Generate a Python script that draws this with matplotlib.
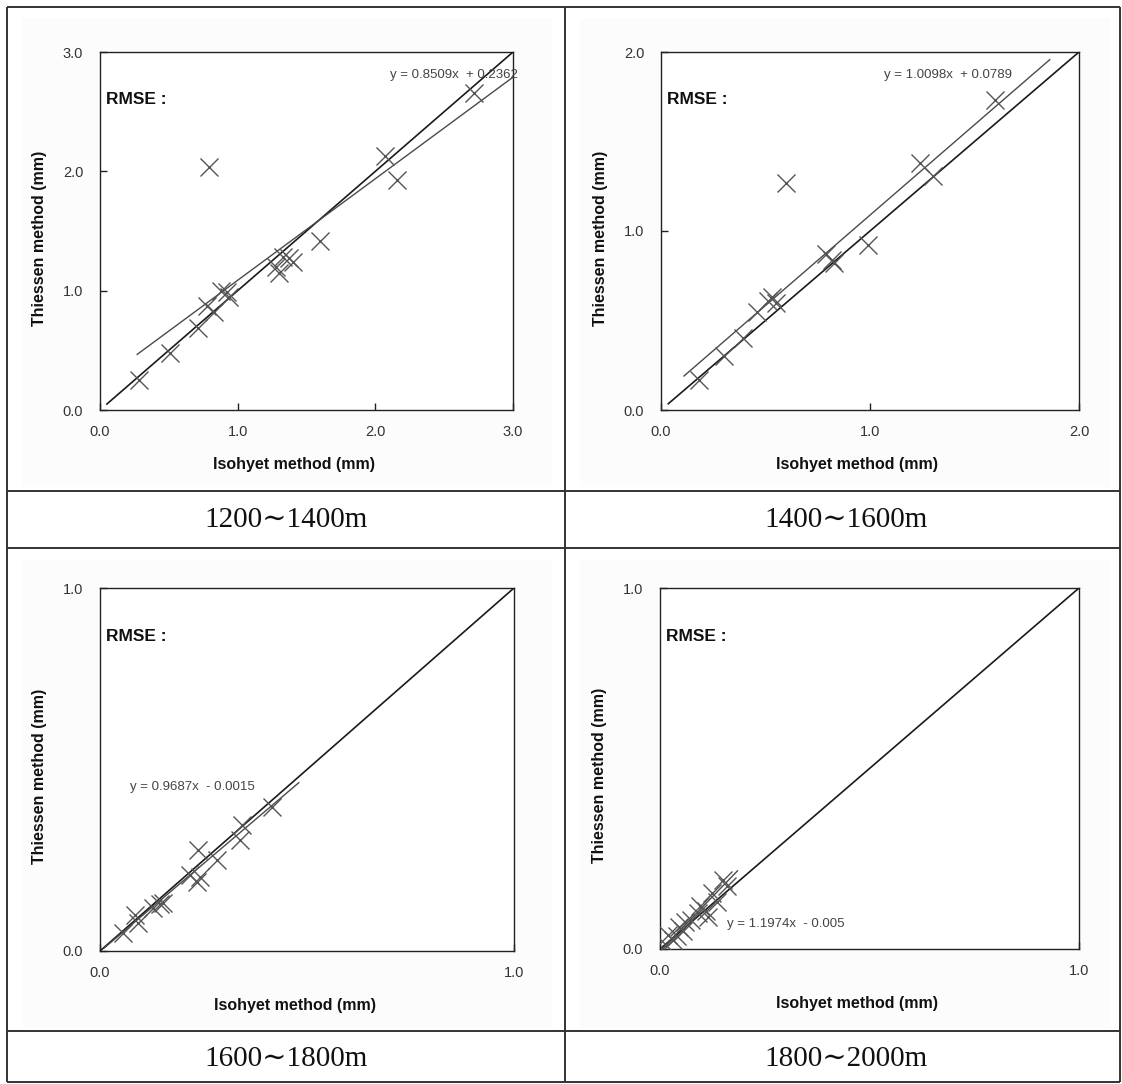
"""Isohyet vs Thiessen areal rainfall, four elevation bands, laid out as a 2x2 table."""

import matplotlib
matplotlib.use("Agg")
import matplotlib.pyplot as plt

plt.rcParams['font.family'] = ['Liberation Sans', 'DejaVu Sans']

# ---- data ----
band_labels = ['1200∼1400m', '1400∼1600m', '1600∼1800m', '1800∼2000m']
axis_max = [3.0, 2.0, 1.0, 1.0]
tick_values = [[0, 1, 2, 3], [0, 1, 2], [0, 1], [0, 1]]

# 1200~1400m
isohyet_1 = [0.28, 0.51, 0.71, 0.79, 0.78, 0.83, 0.88, 0.92, 0.94,
             1.28, 1.30, 1.33, 1.37, 1.40, 1.60, 2.07, 2.16, 2.72]
thiessen_1 = [0.25, 0.48, 0.69, 2.04, 0.87, 0.82, 1.00, 0.99, 0.95,
              1.20, 1.15, 1.28, 1.27, 1.24, 1.42, 2.13, 1.93, 2.66]

# 1400~1600m
isohyet_2 = [0.18, 0.30, 0.39, 0.46, 0.51, 0.53, 0.55, 0.60,
             0.79, 0.82, 0.83, 0.99, 1.24, 1.30, 1.60]
thiessen_2 = [0.17, 0.30, 0.40, 0.55, 0.61, 0.63, 0.60, 1.27,
              0.87, 0.84, 0.82, 0.92, 1.38, 1.31, 1.73]

# 1600~1800m
isohyet_3 = [0.056, 0.085, 0.092, 0.128, 0.145, 0.152, 0.217,
             0.234, 0.237, 0.242, 0.283, 0.338, 0.343, 0.415]
thiessen_3 = [0.050, 0.100, 0.077, 0.118, 0.130, 0.132, 0.209,
              0.190, 0.278, 0.204, 0.250, 0.306, 0.347, 0.397]

# 1800~2000m
isohyet_4 = [0.015, 0.020, 0.030, 0.040, 0.045, 0.055, 0.060, 0.075,
             0.090, 0.095, 0.110, 0.115, 0.125, 0.135, 0.150, 0.160]
thiessen_4 = [0.010, 0.040, 0.025, 0.035, 0.060, 0.050, 0.075, 0.080,
              0.100, 0.120, 0.105, 0.090, 0.155, 0.130, 0.190, 0.175]

# linear trend lines (slope, intercept) and the x range they are drawn over
slopes = [0.8509, 1.0098, 0.9687, 1.1974]
intercepts = [0.2362, 0.0789, -0.0015, -0.005]
fit_ranges = [(0.27, 3.0), (0.11, 1.86), (0.01, 0.48), (0.005, 0.185)]
one_to_one = [(0.05, 3.0), (0.035, 2.0), (0.0, 1.0), (0.005, 1.0)]
equations = ['y = 0.8509x  + 0.2362', 'y = 1.0098x  + 0.0789',
             'y = 0.9687x  - 0.0015', 'y = 1.1974x  - 0.005']

isohyet = [isohyet_1, isohyet_2, isohyet_3, isohyet_4]
thiessen = [thiessen_1, thiessen_2, thiessen_3, thiessen_4]

# ---- layout (pixels of a 1122 x 1084 canvas) ----
W, H = 1122, 1084
fig = plt.figure(figsize=(W / 100, H / 100), dpi=100)
fig.patch.set_facecolor('white')

# table grid + captions live on a full-figure background axes
bg = fig.add_axes([0, 0, 1, 1])
bg.set_xlim(0, W)
bg.set_ylim(H, 0)
bg.axis('off')

# very faint backdrop of the pasted chart images
for (x0, y0, x1, y1) in [(22, 18, 552, 487), (580, 18, 1110, 487),
                         (22, 560, 552, 1027), (580, 560, 1110, 1027)]:
    bg.add_patch(plt.Rectangle((x0, y0), x1 - x0, y1 - y0,
                               facecolor='#fcfcfc', edgecolor='none'))

grid_kw = dict(color='#333333', lw=1.4, solid_capstyle='butt')
for y in [7, 491, 548, 1031, 1082]:
    bg.plot([7, 1120], [y, y], **grid_kw)
for x in [7, 565, 1120]:
    bg.plot([x, x], [7, 1082], **grid_kw)

caption_pos = [(286, 520), (846, 520), (286, 1059), (846, 1059)]
for (cx, cy), lab in zip(caption_pos, band_labels):
    bg.text(cx, cy, lab, ha='center', va='center', fontsize=21,
            family=['Liberation Serif', 'DejaVu Serif'], color='#111111')

# plot boxes: left, top, right, bottom in pixels
boxes = [(100, 52, 513, 410), (661, 52, 1079, 410),
         (100, 588, 514, 951), (660, 588, 1079, 949)]
eq_pos = [(1.012, 0.936, 'right'), (0.533, 0.936, 'left'),
          (0.072, 0.452, 'left'), (0.16, 0.07, 'left')]

for i, (l, t, r, b) in enumerate(boxes):
    w, h = r - l, b - t
    ax = fig.add_axes([l / W, 1 - b / H, w / W, h / H])
    ax.set_facecolor('white')
    top = axis_max[i]

    # 1:1 line
    x0, x1 = one_to_one[i]
    ax.plot([x0, x1], [x0, x1], color='#1a1a1a', lw=1.2, zorder=3)
    # trend line
    f0, f1 = fit_ranges[i]
    ax.plot([f0, f1], [slopes[i] * f0 + intercepts[i], slopes[i] * f1 + intercepts[i]],
            color='#4a4a4a', lw=1.0, zorder=3)
    # observations
    ax.plot(isohyet[i], thiessen[i], linestyle='none', marker='x', ms=13,
            mew=1.0, color='#555555', zorder=4)

    ax.set_xlim(0, top)
    ax.set_ylim(0, top)
    ax.set_xticks(tick_values[i])
    ax.set_yticks(tick_values[i])
    ax.set_xticklabels([f'{v:.1f}' for v in tick_values[i]])
    ax.set_yticklabels([f'{v:.1f}' for v in tick_values[i]])
    ax.tick_params(direction='in', length=5, width=1, colors='#222222',
                   labelcolor='#333333', labelsize=10.5)
    ax.tick_params(axis='y', pad=12)
    ax.tick_params(axis='x', pad=11)
    for sp in ax.spines.values():
        sp.set_color('#222222')
        sp.set_linewidth(1.0)

    ax.set_xlabel('Isohyet method (mm)', fontsize=11.5, fontweight='bold', color='#111111')
    ax.set_ylabel('Thiessen method (mm)', fontsize=11.5, fontweight='bold', color='#111111')
    ax.xaxis.set_label_coords(0.47, -47 / h)
    ax.yaxis.set_label_coords(-53 / w, 0.48)

    ax.text(0.015, 0.866, 'RMSE :', transform=ax.transAxes, fontsize=12.5,
            fontweight='bold', va='center', ha='left', color='#111111')
    ex, ey, ha = eq_pos[i]
    ax.text(ex, ey, equations[i], transform=ax.transAxes, fontsize=9.5,
            color='#444444', va='center', ha=ha, zorder=5)

fig.savefig('out.png', dpi=100)
